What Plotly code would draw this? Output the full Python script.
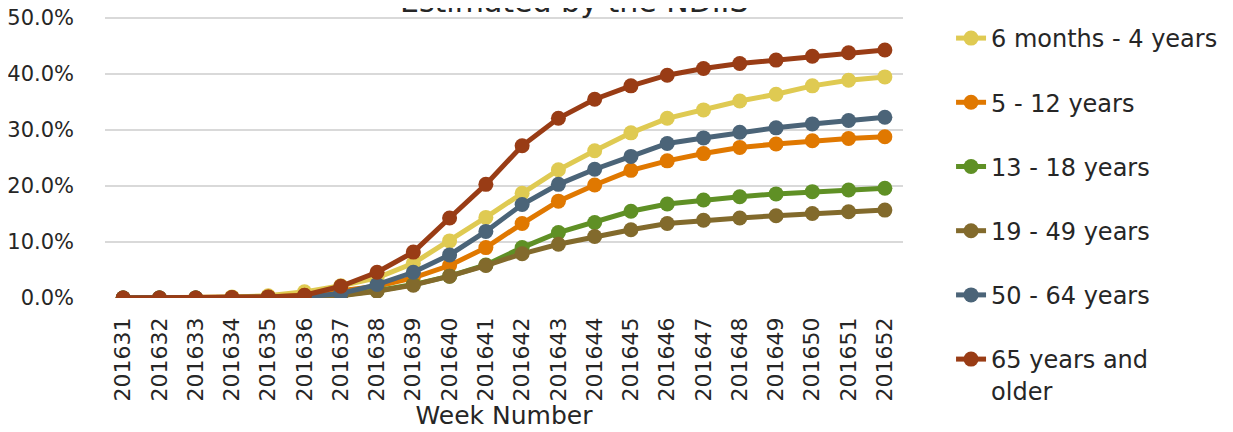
import plotly.graph_objects as go

weeks = ["201631", "201632", "201633", "201634", "201635", "201636", "201637", "201638",
         "201639", "201640", "201641", "201642", "201643", "201644", "201645", "201646",
         "201647", "201648", "201649", "201650", "201651", "201652"]

age_6m_4y = [0, 0, 0, 0.2, 0.4, 1.1, 2.2, 3.6, 6.2, 10.2, 14.4, 18.7, 22.9, 26.3, 29.5, 32.1,
             33.6, 35.2, 36.4, 37.9, 38.9, 39.5]
age_5_12 = [0, 0, 0, 0.1, 0.2, 0.5, 1.2, 2.1, 3.6, 5.8, 9.0, 13.3, 17.3, 20.2, 22.8, 24.5,
            25.8, 26.9, 27.5, 28.1, 28.5, 28.8]
age_13_18 = [0, 0, 0, 0, 0.1, 0.2, 0.5, 1.3, 2.4, 3.9, 5.9, 9.0, 11.7, 13.5, 15.5, 16.8,
             17.5, 18.1, 18.6, 19.0, 19.3, 19.6]
age_19_49 = [0, 0, 0, 0, 0.1, 0.1, 0.4, 1.2, 2.3, 3.9, 5.8, 7.9, 9.6, 11.0, 12.2, 13.3,
             13.9, 14.3, 14.7, 15.1, 15.4, 15.7]
age_50_64 = [0, 0, 0, 0, 0.1, 0.2, 0.8, 2.4, 4.6, 7.7, 11.9, 16.7, 20.3, 23.0, 25.3, 27.6,
             28.6, 29.6, 30.4, 31.1, 31.7, 32.3]
age_65_up = [0, 0, 0, 0.1, 0.2, 0.5, 2.1, 4.6, 8.2, 14.3, 20.3, 27.2, 32.1, 35.5, 37.9, 39.8,
             41.0, 41.9, 42.5, 43.2, 43.8, 44.3]

series_names = ["6 months - 4 years", "5 - 12 years", "13 - 18 years", "19 - 49 years",
                "50 - 64 years", "65 years and<br>older"]
series_values = [age_6m_4y, age_5_12, age_13_18, age_19_49, age_50_64, age_65_up]
series_colors = ["#DFCA52", "#E07800", "#5F9025", "#826A2C", "#4B6478", "#993C15"]

title_text = "Estimated by the NDIIS"
x_title = "Week Number"

FONT = "DejaVu Sans"
TXT = "#262626"

fig = go.Figure()
for i, (name, vals, col) in enumerate(zip(series_names, series_values, series_colors)):
    fig.add_trace(go.Scatter(
        x=weeks, y=[v / 100 for v in vals], name=name, mode="lines+markers",
        line=dict(color=col, width=5),
        marker=dict(color=col, size=15),
        legendgroup=f"g{i}",
    ))

fig.update_layout(
    width=1233, height=432,
    margin=dict(l=97, r=338, t=9, b=142, autoexpand=False),
    paper_bgcolor="white", plot_bgcolor="white",
    font=dict(family=FONT, color=TXT, size=22),
    showlegend=True,
    legend=dict(
        x=1.0602, y=0.9815, xref="paper", yref="container", xanchor="left", yanchor="top",
        font=dict(family=FONT, size=24, color=TXT),
        tracegroupgap=30, valign="top", traceorder="grouped",
        bgcolor="rgba(0,0,0,0)", maxheight=1,
    ),
    annotations=[dict(
        text=title_text, xref="paper", yref="paper", x=0.5875, y=0.986,
        xanchor="center", yanchor="bottom", showarrow=False,
        font=dict(family=FONT, size=30, color=TXT),
    )],
)

fig.update_xaxes(
    type="category", range=[-0.5, len(weeks) - 0.5],
    tickangle=-90, showgrid=False, showline=False, zeroline=False,
    ticks="", ticklabelstandoff=14, automargin=False,
    tickfont=dict(family=FONT, size=22, color=TXT),
    title=dict(text=x_title, font=dict(family=FONT, size=25, color=TXT), standoff=0),
)
fig.update_yaxes(
    range=[0, 0.502], dtick=0.1, tickformat=".1%", automargin=False,
    showgrid=True, gridcolor="#D9D9D9", gridwidth=1.5,
    zeroline=False, showline=False, ticks="", ticklabelstandoff=30,
    ticklabeloverflow="allow",
    tickfont=dict(family=FONT, size=21, color=TXT),
)

fig.write_html("out.html")
